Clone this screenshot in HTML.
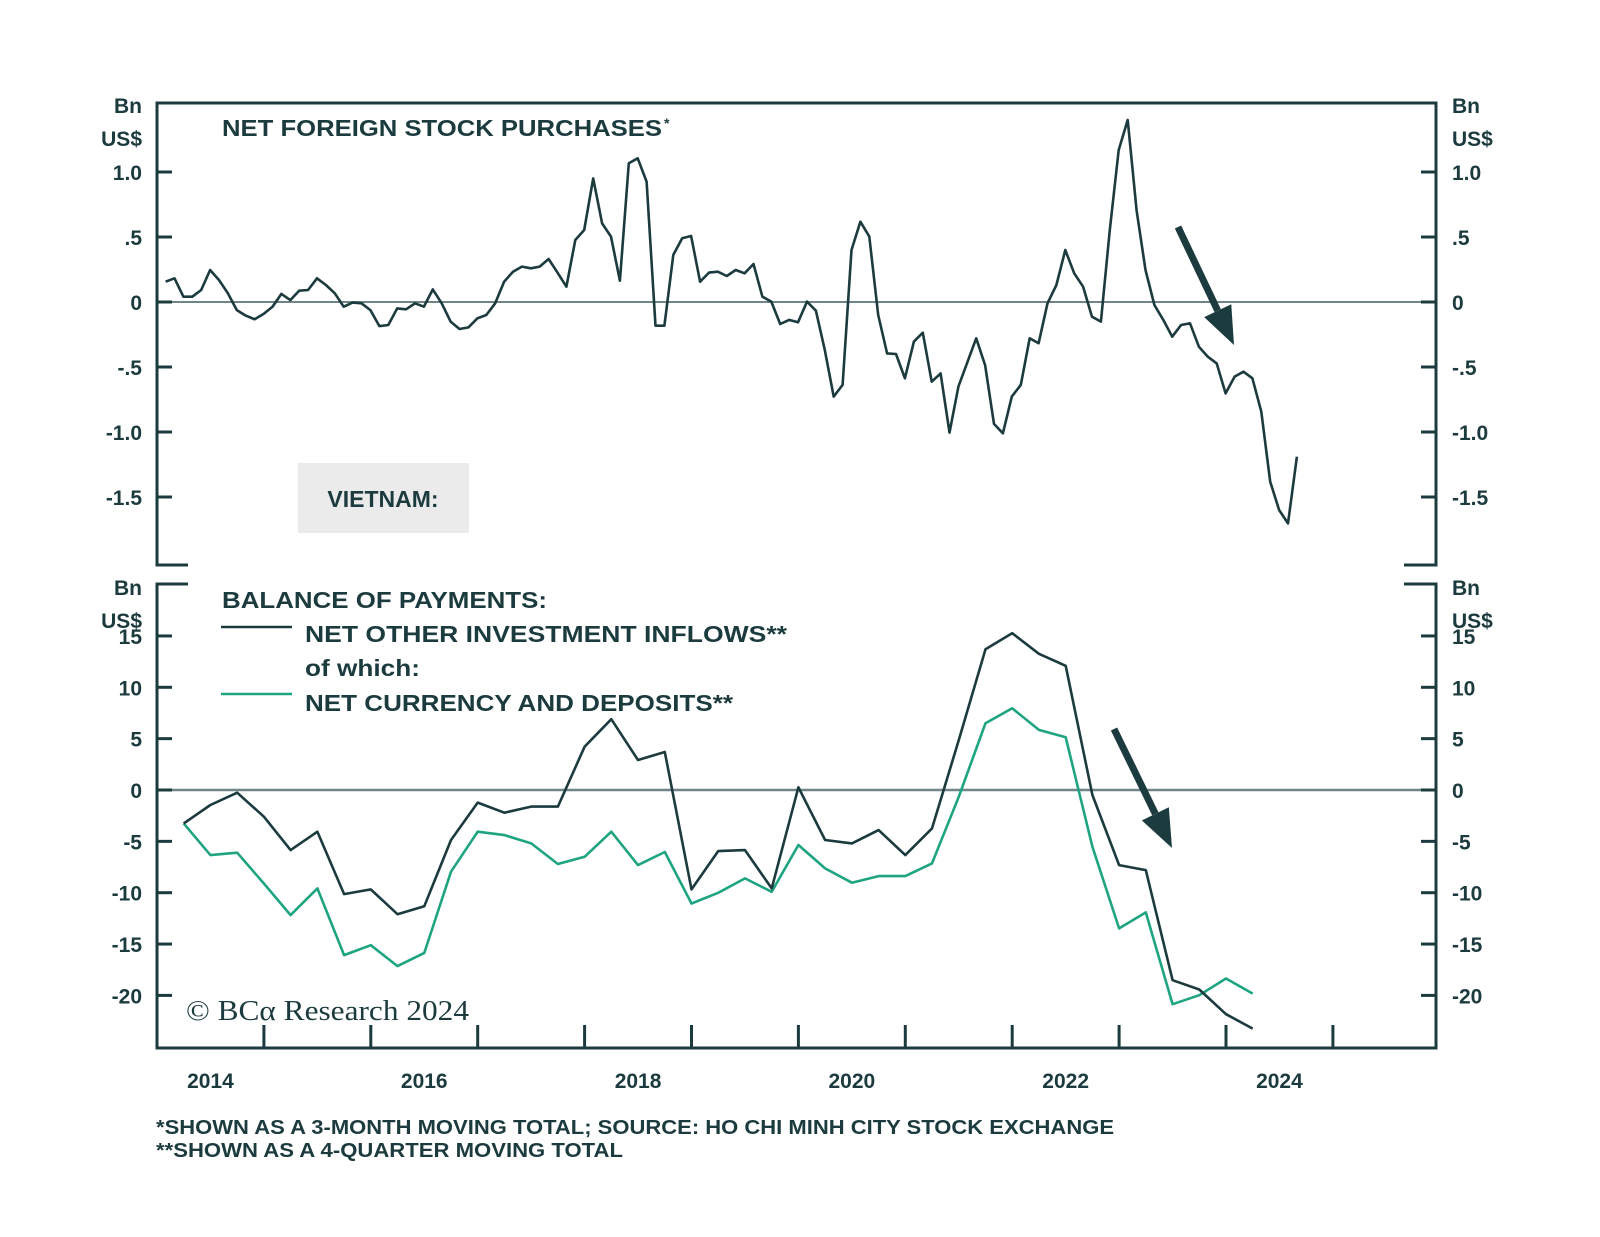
<!DOCTYPE html>
<html><head><meta charset="utf-8"><style>
html,body{margin:0;padding:0;background:#fff;}
svg{display:block;font-family:"Liberation Sans",sans-serif;}
</style></head><body>
<svg id="chart" width="1600" height="1237" viewBox="0 0 1600 1237" xmlns="http://www.w3.org/2000/svg"></svg>
<script>
const topValues=[0.156,0.182,0.041,0.041,0.092,0.246,0.169,0.067,-0.062,-0.105,-0.133,-0.092,-0.036,0.062,0.015,0.087,0.092,0.182,0.131,0.067,-0.036,-0.005,-0.010,-0.062,-0.185,-0.177,-0.049,-0.056,-0.010,-0.036,0.097,-0.010,-0.151,-0.208,-0.195,-0.126,-0.100,-0.010,0.156,0.233,0.272,0.259,0.272,0.331,0.226,0.118,0.477,0.554,0.951,0.605,0.503,0.164,1.067,1.105,0.926,-0.182,-0.182,0.362,0.490,0.508,0.156,0.226,0.233,0.200,0.246,0.221,0.292,0.041,0.003,-0.169,-0.138,-0.156,0.003,-0.067,-0.369,-0.728,-0.638,0.40,0.618,0.503,-0.100,-0.395,-0.400,-0.587,-0.305,-0.236,-0.613,-0.549,-1.005,-0.651,-0.465,-0.279,-0.485,-0.938,-1.010,-0.728,-0.638,-0.279,-0.318,-0.010,0.131,0.400,0.221,0.118,-0.113,-0.151,0.554,1.169,1.400,0.705,0.246,-0.023,-0.138,-0.267,-0.177,-0.164,-0.344,-0.421,-0.472,-0.703,-0.574,-0.536,-0.587,-0.844,-1.382,-1.600,-1.703,-1.190];
const topStart=2014.08;
const otherInflows=[-3.25,-1.46,-0.26,-2.60,-5.85,-4.06,-10.14,-9.68,-12.09,-11.31,-4.87,-1.23,-2.21,-1.62,-1.62,4.22,6.89,2.92,3.70,-9.68,-5.95,-5.85,-9.58,0.26,-4.87,-5.20,-3.90,-6.34,-3.74,4.87,13.71,15.27,13.26,12.09,-0.49,-7.31,-7.80,-18.52,-19.43,-21.83,-23.23];
const currencyDeposits=[-3.25,-6.34,-6.11,-9.10,-12.18,-9.58,-16.08,-15.11,-17.15,-15.86,-7.96,-4.06,-4.39,-5.20,-7.21,-6.50,-4.06,-7.31,-6.04,-11.05,-10.01,-8.61,-9.91,-5.36,-7.63,-9.03,-8.38,-8.38,-7.15,-0.65,6.50,7.96,5.85,5.13,-5.52,-13.48,-11.92,-20.86,-19.98,-18.35,-19.82];
const bopStart=2014.25;
const topTicks=[1.0,0.5,0,-0.5,-1.0,-1.5];
const topTickLabels=["1.0",".5","0","-.5","-1.0","-1.5"];
const botTicks=[15,10,5,0,-5,-10,-15,-20];
const botTickLabels=["15","10","5","0","-5","-10","-15","-20"];
const yearLabels=[2014,2016,2018,2020,2022,2024];

const svg=document.getElementById('chart');
const NS='http://www.w3.org/2000/svg';
const C='#1c3b3e', G='#1fa482';
const L=157,R=1436;
function x(t){return L+(t-2014)*106.9;}
function yT(v){return 302-v*130;}
function yB(v){return 790-v*10.27;}
function mk(tag,attrs,parent){const e=document.createElementNS(NS,tag);for(const k in attrs)e.setAttribute(k,attrs[k]);(parent||svg).appendChild(e);return e;}
function txt(s,attrs){const e=mk('text',attrs);e.textContent=s;return e;}

let e;
e=mk('path',{d:`M188 103 H${R} V565 H1404 M188 103 H${L} V565 H188`,fill:'none',stroke:C,'stroke-width':3});

e=mk('path',{d:`M188 584 H${L} V1048 H${R} V584 H1404`,fill:'none',stroke:C,'stroke-width':3});

e=mk('line',{x1:L,x2:R,y1:yT(0),y2:yT(0),stroke:'#6f8587','stroke-width':2});

e=mk('line',{x1:L,x2:R,y1:yB(0),y2:yB(0),stroke:'#6f8587','stroke-width':2.5});


const fs='font-weight:bold;font-size:21px;fill:'+C;
topTicks.forEach((v,i)=>{
  const yy=yT(v);
  e=mk('line',{x1:L,x2:L+15,y1:yy,y2:yy,stroke:C,'stroke-width':3});
  
  e=mk('line',{x1:R-15,x2:R,y1:yy,y2:yy,stroke:C,'stroke-width':3});
  
  e=txt(topTickLabels[i],{x:142,y:yy+8,'text-anchor':'end',style:fs});
  
  e=txt(topTickLabels[i],{x:1452,y:yy+8,style:fs});
  
});
botTicks.forEach((v,i)=>{
  const yy=yB(v);
  e=mk('line',{x1:L,x2:L+15,y1:yy,y2:yy,stroke:C,'stroke-width':3});
  
  e=mk('line',{x1:R-15,x2:R,y1:yy,y2:yy,stroke:C,'stroke-width':3});
  
  e=txt(botTickLabels[i],{x:142,y:yy+8,'text-anchor':'end',style:fs});
  
  e=txt(botTickLabels[i],{x:1452,y:yy+8,style:fs});
  
});
[[142,113,'end','Bn'],[142,146,'end','US$'],[1452,113,'start','Bn'],[1452,146,'start','US$'],
 [142,595,'end','Bn'],[142,628,'end','US$'],[1452,595,'start','Bn'],[1452,628,'start','US$']].forEach(a=>{
  e=txt(a[3],{x:a[0],y:a[1],'text-anchor':a[2],style:fs});
  
});
for(let yr=2015;yr<=2025;yr++){
  e=mk('line',{x1:x(yr),x2:x(yr),y1:1048,y2:1025,stroke:C,'stroke-width':3});
  
}
yearLabels.forEach(yr=>{
  e=txt(String(yr),{x:x(yr+0.5),y:1088,'text-anchor':'middle',style:fs});
  
});
function line(vals,start,step,yf,color,w,name){
  const d=vals.map((v,i)=>(i?'L':'M')+x(start+i*step).toFixed(1)+' '+yf(v).toFixed(1)).join(' ');
  const p=mk('path',{d:d,fill:'none',stroke:color,'stroke-width':w,'stroke-linejoin':'round'});
  
  
}
line(topValues,topStart,1/12,yT,C,2.6,'net-foreign-stock-purchases-line');
line(currencyDeposits,bopStart,0.25,yB,G,2.6,'net-currency-deposits-line');
line(otherInflows,bopStart,0.25,yB,C,2.6,'net-other-investment-line');

function arrow(x1,y1,x2,y2,name){
  const ang=Math.atan2(y2-y1,x2-x1),hl=38,hw=15;
  const bx=x2-hl*Math.cos(ang),by=y2-hl*Math.sin(ang);
  const g=mk('g',{});
  
  
  mk('line',{x1:x1,y1:y1,x2:bx,y2:by,stroke:C,'stroke-width':7},g);
  const px=-Math.sin(ang)*hw,py=Math.cos(ang)*hw;
  mk('polygon',{points:`${x2},${y2} ${bx+px},${by+py} ${bx-px},${by-py}`,fill:C},g);
}
arrow(1178,227,1234,345,'top-down-arrow');
arrow(1114,729,1172,848,'bottom-down-arrow');

const lf='font-weight:bold;font-size:23px;fill:'+C;
e=txt('NET FOREIGN STOCK PURCHASES',{x:222,y:136,style:lf,textLength:440,lengthAdjust:'spacingAndGlyphs'});

e=txt('*',{x:664,y:128,style:'font-size:14px;font-weight:bold;fill:'+C});

e=mk('rect',{x:298,y:463,width:171,height:70,fill:'#ebebeb'});

e=txt('VIETNAM:',{x:383,y:507,'text-anchor':'middle',style:lf});

e=txt('BALANCE OF PAYMENTS:',{x:222,y:608,style:lf,textLength:325,lengthAdjust:'spacingAndGlyphs'});

e=mk('line',{x1:221,x2:292,y1:627,y2:627,stroke:C,'stroke-width':2.6});

e=txt('NET OTHER INVESTMENT INFLOWS**',{x:305,y:642,style:lf,textLength:482,lengthAdjust:'spacingAndGlyphs'});

e=txt('of which:',{x:305,y:676,style:lf,textLength:115,lengthAdjust:'spacingAndGlyphs'});

e=mk('line',{x1:221,x2:292,y1:694,y2:694,stroke:G,'stroke-width':2.6});

e=txt('NET CURRENCY AND DEPOSITS**',{x:305,y:711,style:lf,textLength:428,lengthAdjust:'spacingAndGlyphs'});

e=txt('© BCα Research 2024',{x:186,y:1020,style:'font-family:"Liberation Serif",serif;font-size:28px;fill:'+C,textLength:283,lengthAdjust:'spacingAndGlyphs'});

const ff='font-weight:bold;font-size:20px;fill:'+C;
e=txt('*SHOWN AS A 3-MONTH MOVING TOTAL; SOURCE: HO CHI MINH CITY STOCK EXCHANGE',{x:156,y:1134,style:ff,textLength:958,lengthAdjust:'spacingAndGlyphs'});

e=txt('**SHOWN AS A 4-QUARTER MOVING TOTAL',{x:156,y:1157,style:ff,textLength:467,lengthAdjust:'spacingAndGlyphs'});

</script>
</body></html>
